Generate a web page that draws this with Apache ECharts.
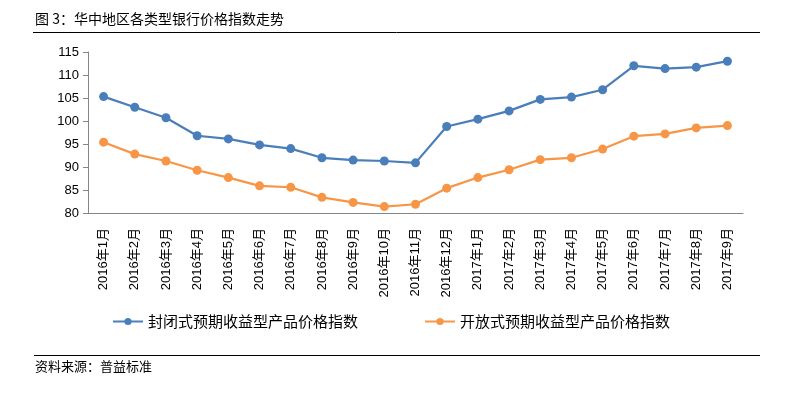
<!DOCTYPE html>
<html><head><meta charset="utf-8">
<script src="https://cdn.jsdelivr.net/npm/echarts@6/dist/echarts.min.js"></script>
<style>html,body{margin:0;padding:0;background:#fff}#c{width:790px;height:395px}</style>
</head><body><div id="c"></div>
<script>
const categories = ['2016年1月','2016年2月','2016年3月','2016年4月','2016年5月','2016年6月','2016年7月','2016年8月','2016年9月','2016年10月','2016年11月','2016年12月','2017年1月','2017年2月','2017年3月','2017年4月','2017年5月','2017年6月','2017年7月','2017年8月','2017年9月'];
const closedIndex = [105.3,103.0,100.7,96.8,96.1,94.8,94.0,92.0,91.5,91.3,90.9,98.8,100.4,102.2,104.7,105.2,106.8,112.0,111.4,111.7,113.0];
const openIndex = [95.4,92.8,91.3,89.3,87.7,85.9,85.6,83.4,82.3,81.4,81.9,85.4,87.7,89.4,91.6,92.0,93.9,96.7,97.2,98.5,99.0];
const yTicks = [80,85,90,95,100,105,110,115];
const seriesNames = ['封闭式预期收益型产品价格指数','开放式预期收益型产品价格指数'];
const titleText = '图 3：华中地区各类型银行价格指数走势';
const sourceText = '资料来源：普益标准';

const font = '"Noto Sans CJK SC", sans-serif';
const chart = echarts.init(document.getElementById('c'));
chart.setOption({
  animation: false,
  backgroundColor: '#fff',
  textStyle: {fontFamily: font},
  grid: {left: 88, right: 47, top: 52, bottom: 182, containLabel: false},
  legend: {
    top: 309, left: 107, itemGap: 66, itemWidth: 30, itemHeight: 9,
    textStyle: {fontSize: 15, color: '#000', fontFamily: font},
    data: seriesNames
  },
  xAxis: {
    type: 'category', data: categories, boundaryGap: true,
    axisLine: {lineStyle: {color: '#868686'}},
    axisTick: {lineStyle: {color: '#868686'}, length: 5},
    axisLabel: {rotate: 90, fontSize: 13, color: '#000', margin: 15, interval: 0, fontFamily: 'Liberation Sans, "Noto Sans CJK SC", sans-serif'}
  },
  yAxis: {
    type: 'value', min: yTicks[0], max: yTicks[yTicks.length-1], interval: 5,
    axisLine: {show: true, lineStyle: {color: '#868686'}},
    axisTick: {show: true, length: 5, lineStyle: {color: '#868686'}},
    splitLine: {show: false},
    axisLabel: {fontSize: 13, color: '#000', margin: 9, fontFamily: 'Liberation Sans, Arial, sans-serif'}
  },
  series: [
    {name: seriesNames[0], type: 'line', data: closedIndex, symbol: 'circle', symbolSize: 9,
     itemStyle: {color: '#4A7EBB'}, lineStyle: {width: 2.2, color: '#4A7EBB'}},
    {name: seriesNames[1], type: 'line', data: openIndex, symbol: 'circle', symbolSize: 9,
     itemStyle: {color: '#F79646'}, lineStyle: {width: 2.2, color: '#F79646'}}
  ],
  graphic: [
    {type: 'text', left: 35, top: 12, style: {text: titleText, fontSize: 14, fill: '#000', fontFamily: font}},
    {type: 'line', shape: {x1: 33, y1: 32.5, x2: 760, y2: 32.5}, style: {stroke: '#000', lineWidth: 1}},
    {type: 'line', shape: {x1: 34, y1: 355.5, x2: 760, y2: 355.5}, style: {stroke: '#000', lineWidth: 1}},
    {type: 'text', left: 35, top: 360, style: {text: sourceText, fontSize: 13, fill: '#000', fontFamily: font}}
  ]
});
</script></body></html>
